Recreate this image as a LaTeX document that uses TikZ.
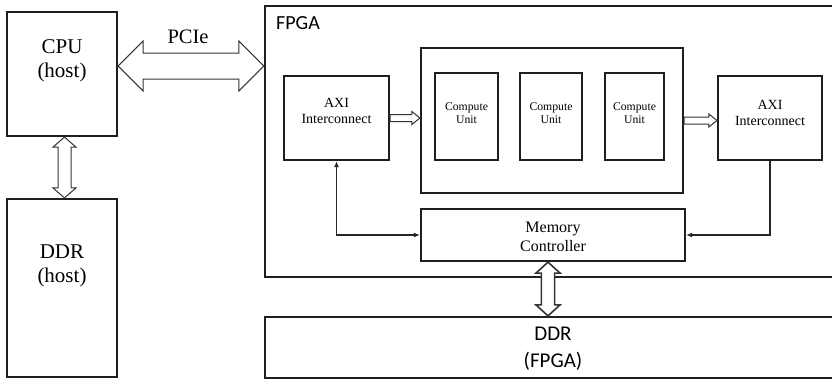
\documentclass[tikz,border=0pt]{standalone}
\usepackage{fontspec}
\setmainfont{Liberation Serif}
\newfontfamily\calib{Carlito}
\usetikzlibrary{arrows.meta,calc}
\newcommand{\harrowdbl}[7][]{%
 \draw[hollow,#1] let \p1=#2, \p2=#3, \n1={(\x2)-(\x1)} in
  (\x1,-#4pt) -- ++(#7,-#6) -- ++(0,#6-#5) -- ++({\n1-2*#7},0) -- ++(0,#5-#6)
  -- (\x2,-#4pt) -- ++(-#7,#6) -- ++(0,#5-#6) -- ++({-\n1+2*#7},0) -- ++(0,#6-#5) -- cycle;}
% vertical: top anchor, bottom anchor, x(px), shaft half, head half, head length
\newcommand{\varrowdbl}[7][]{%
 \draw[hollow,#1] let \p1=#2, \p2=#3 in
  (#4pt,\y1) -- ({#4pt-#6pt},{\y1-#7pt}) -- ({#4pt-#5pt},{\y1-#7pt})
  -- ({#4pt-#5pt},{\y2+#7pt}) -- ({#4pt-#6pt},{\y2+#7pt}) -- (#4pt,\y2)
  -- ({#4pt+#6pt},{\y2+#7pt}) -- ({#4pt+#5pt},{\y2+#7pt})
  -- ({#4pt+#5pt},{\y1-#7pt}) -- ({#4pt+#6pt},{\y1-#7pt}) -- cycle;}
\newcommand{\harrowsgl}[5]{%
 \draw[hollow] let \p1=#1, \p2=#2 in
  (\x1,{\y1+#3pt}) -- ({\x2-#5pt},{\y1+#3pt}) -- ({\x2-#5pt},{\y1+#4pt}) -- (\x2,\y1)
  -- ({\x2-#5pt},{\y1-#4pt}) -- ({\x2-#5pt},{\y1-#3pt}) -- (\x1,{\y1-#3pt}) -- cycle;}
\begin{document}
\begin{tikzpicture}[x=1pt,y=-1pt,
  box/.style={draw=black!88,line width=2.2pt,inner sep=0pt,fill=none},
  hollow/.style={draw=black!80,line width=1pt,fill=white,line join=miter},
  conn/.style={draw=black!85,line width=1.4pt},
  serifbig/.style={font=\fontsize{21}{24}\selectfont,align=center},
  axitxt/.style={font=\fontsize{14}{16}\selectfont,align=center},
  cutxt/.style={font=\fontsize{11.7}{13}\selectfont,align=center},
  mctxt/.style={font=\fontsize{16}{19}\selectfont,align=center},
  sanstxt/.style={font=\calib\fontsize{21}{27}\selectfont,align=center}]
\useasboundingbox (0,0) rectangle (832,380);
\clip (0,0) rectangle (832,380);
% boxes
\node[box,minimum width=110pt,minimum height=124pt] (cpu) at (62,74) {};
\node[box,minimum width=110pt,minimum height=178pt] (ddrh) at (62,288) {};
\node[box,minimum width=580pt,minimum height=271pt] (fpga) at (555,141.5) {};
\node[box,minimum width=105pt,minimum height=84pt] (axil) at (336.5,118) {};
\node[box,minimum width=262pt,minimum height=145pt] (cbox) at (552,120.5) {};
\node[box,minimum width=63pt,minimum height=87pt] (cu1) at (466.5,116.5) {};
\node[box,minimum width=62pt,minimum height=87pt] (cu2) at (551,116.5) {};
\node[box,minimum width=59pt,minimum height=87pt] (cu3) at (634.5,116.5) {};
\node[box,minimum width=104pt,minimum height=84pt] (axir) at (770,118) {};
\node[box,minimum width=264pt,minimum height=52pt] (mc) at (553,235) {};
\node[box,minimum width=580pt,minimum height=61pt] (ddrf) at (555,347.5) {};
% texts
\node[serifbig] (tcpu) at (62,61) {CPU\\(host)};
\node[serifbig] (tddrh) at (62,265.5) {DDR\\(host)};
\node[font=\fontsize{20.5}{24}\selectfont] (tpcie) at (188,37) {PCIe};
\node[font=\calib\fontsize{20}{24}\selectfont,anchor=west,inner sep=0pt] (tfpga) at (276,23) {FPGA};
\node[axitxt] (taxil) at (336.5,111) {AXI\\Interconnect};
\node[axitxt] (taxir) at (770,113) {AXI\\Interconnect};
\node[cutxt] (tcu1) at (466.5,113) {Compute\\Unit};
\node[cutxt] (tcu2) at (551,113) {Compute\\Unit};
\node[cutxt] (tcu3) at (634.5,113) {Compute\\Unit};
\node[mctxt] (tmc) at (553,236.5) {Memory\\Controller};
\node[sanstxt] (tddrf) at (553,348.5) {DDR\\(FPGA)};
% block arrows
\harrowdbl{(cpu.east)}{(fpga.west)}{66}{13}{25}{25}
\varrowdbl{(cpu.south)}{(ddrh.north)}{64.5}{6.5}{11.5}{10}
\varrowdbl[line width=1.6pt]{(mc.south)}{(ddrf.north)}{548}{6.6}{12}{11}
\harrowsgl{(axil.east)}{(cbox.west)}{3.5}{6.5}{8}
\harrowsgl{(cbox.east)}{(axir.west)}{3.5}{6.5}{8}
% connectors
\draw[conn,{Latex[length=6pt,width=5pt]}-{Latex[length=6pt,width=5pt]}] (axil.south) |- (mc.west);
\draw[conn,-{Latex[length=6pt,width=5pt]}] (axir.south) |- (mc.east);
\end{tikzpicture}
\end{document}
